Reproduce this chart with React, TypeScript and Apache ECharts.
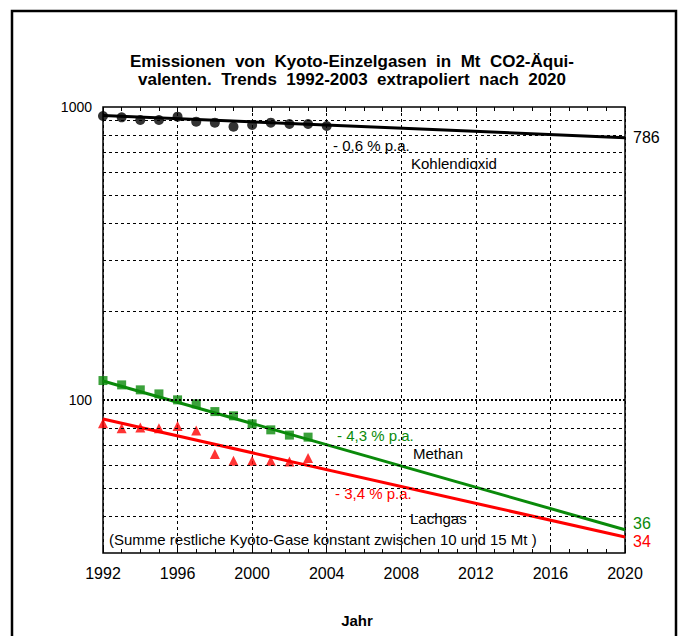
import React, { useEffect, useRef } from "react";
import * as echarts from "echarts";

const FONT = "'Liberation Sans', Arial, Helvetica, sans-serif";

const years = [1992, 1993, 1994, 1995, 1996, 1997, 1998, 1999, 2000, 2001, 2002, 2003, 2004];
const co2 = [932, 922, 903, 903, 927, 891, 884, 857, 868, 884, 875, 875, 861];
const gasYears = [1992, 1993, 1994, 1995, 1996, 1997, 1998, 1999, 2000, 2001, 2002, 2003];
const methan = [116.4, 112.5, 108.2, 104.8, 100, 96.9, 91.2, 88.2, 82.8, 79.0, 75.8, 74.6];
const lachgas = [83.2, 80.0, 80.4, 80.0, 81.5, 78.6, 65.3, 61.9, 61.9, 61.9, 61.6, 63.3];

const trendYears = [1992, 2020];
const co2Trend = [935, 786];
const methanTrend = [116, 36];
const lachgasTrend = [86, 34];

const yLabels = [100, 1000];
const gridValues = [40, 50, 60, 70, 80, 90, 100, 200, 300, 400, 500, 600, 700, 800, 900];

const titleLines = [
  "Emissionen  von  Kyoto-Einzelgasen  in  Mt  CO2-Äqui-",
  "valenten.  Trends  1992-2003  extrapoliert  nach  2020",
];

const GREEN = "#0a8a0a";
const RED = "#ff0000";

const pairs = (xs: number[], ys: number[]) => xs.map((x, i) => [x, ys[i]]);

export default function App() {
  const ref = useRef<HTMLDivElement>(null);
  useEffect(() => {
    if (!ref.current) return;
    const chart = echarts.init(ref.current, null, { renderer: "svg" });
    const xAxisCommon = {
      type: "value",
      min: 1992,
      max: 2020,
      interval: 4,
      axisLine: { show: false },
      axisTick: { show: true, inside: true, length: 5, lineStyle: { color: "#000", width: 1 } },
      minorTick: { show: true, splitNumber: 4, length: 4, lineStyle: { color: "#000", width: 1 } },
    };
    const endLbl = (color: string, offset: number[]) => ({
      show: true,
      formatter: (p: any) => String(p.value[1]),
      color,
      fontSize: 16,
      fontFamily: FONT,
      distance: 8,
      offset,
    });
    const ann = (text: string, x: number, y: number, fill: string) => ({
      type: "text",
      x,
      y,
      style: { text, fill, font: `15px ${FONT}`, textVerticalAlign: "middle" },
    });
    chart.setOption({
      animation: false,
      backgroundColor: "#fff",
      grid: {
        left: 103,
        right: 57,
        top: 107,
        bottom: 83,
        show: true,
        borderColor: "#000",
        borderWidth: 1.5,
        backgroundColor: "transparent",
      },
      xAxis: [
        {
          ...xAxisCommon,
          position: "bottom",
          axisLabel: {
            color: "#000",
            fontSize: 16,
            fontFamily: FONT,
            margin: 12,
            formatter: (v: number) => String(v),
          },
          splitLine: { show: true, lineStyle: { color: "#000", type: [3, 3], width: 1 } },
        },
        {
          ...xAxisCommon,
          position: "top",
          axisLabel: { show: false },
          splitLine: { show: false },
        },
      ],
      yAxis: {
        type: "log",
        logBase: 10,
        min: 30,
        max: 1000,
        axisLine: { show: false },
        axisTick: { show: false },
        splitLine: { show: false },
        axisLabel: {
          color: "#000",
          fontSize: 14,
          fontFamily: FONT,
          margin: 11,
          formatter: (v: number) => {
            const m = yLabels.find((l) => Math.abs(l - v) < 1e-6 * l);
            return m ? String(m) : "";
          },
        },
      },
      series: [
        {
          type: "line",
          name: "grid",
          data: [],
          silent: true,
          z: 1,
          markLine: {
            silent: true,
            symbol: ["none", "none"],
            label: { show: false },
            animation: false,
            data: gridValues.map((v) => ({
              yAxis: v,
              lineStyle: {
                color: "#000",
                type: v === 100 ? [2, 2] : [3, 3],
                width: v === 100 ? 1.8 : 1,
              },
            })),
          },
        },
        {
          type: "line",
          name: "Kohlendioxid Trend",
          data: pairs(trendYears, co2Trend),
          showSymbol: false,
          lineStyle: { color: "#000", width: 3 },
          endLabel: endLbl("#000", [0, 0]),
          z: 3,
        },
        {
          type: "line",
          name: "Methan Trend",
          data: pairs(trendYears, methanTrend),
          showSymbol: false,
          lineStyle: { color: GREEN, width: 3 },
          endLabel: endLbl(GREEN, [0, -6]),
          z: 3,
        },
        {
          type: "line",
          name: "Lachgas Trend",
          data: pairs(trendYears, lachgasTrend),
          showSymbol: false,
          lineStyle: { color: RED, width: 3 },
          endLabel: endLbl(RED, [0, 4]),
          z: 3,
        },
        {
          type: "scatter",
          name: "Kohlendioxid",
          data: pairs(years, co2),
          symbol: "circle",
          symbolSize: 10,
          itemStyle: { color: "#000" },
          z: 4,
        },
        {
          type: "scatter",
          name: "Methan",
          data: pairs(gasYears, methan),
          symbol: "rect",
          symbolSize: 9,
          itemStyle: { color: GREEN },
          z: 4,
        },
        {
          type: "scatter",
          name: "Lachgas",
          data: pairs(gasYears, lachgas),
          symbol: "triangle",
          symbolSize: 10,
          itemStyle: { color: RED },
          z: 4,
        },
      ],
      graphic: [
        {
          type: "rect",
          shape: { x: 12, y: 11, width: 664, height: 660 },
          style: { fill: "none", stroke: "#000", lineWidth: 2.5 },
          silent: true,
        },
        ...titleLines.map((t, i) => ({
          type: "text",
          x: 352,
          y: 61 + i * 18,
          style: {
            text: t,
            fill: "#000",
            font: `bold 17px ${FONT}`,
            textAlign: "center",
            textVerticalAlign: "middle",
          },
        })),
        {
          type: "text",
          x: 357,
          y: 620,
          style: { text: "Jahr", fill: "#000", font: `bold 15px ${FONT}`, textAlign: "center", textVerticalAlign: "middle" },
        },
        ann("- 0,6 % p.a.", 333, 145, "#000"),
        ann("Kohlendioxid", 411, 163, "#000"),
        ann("- 4,3 % p.a.", 337, 435, GREEN),
        ann("Methan", 413, 453, "#000"),
        ann("- 3,4 % p.a.", 335, 493, RED),
        ann("Lachgas", 410, 518, "#000"),
        ann("(Summe restliche Kyoto-Gase konstant zwischen 10 und 15 Mt )", 109, 539, "#000"),
      ],
    });
    return () => chart.dispose();
  }, []);
  return (
    <div
      ref={ref}
      style={{ position: "absolute", left: 0, top: 0, width: 682, height: 636 }}
    />
  );
}
